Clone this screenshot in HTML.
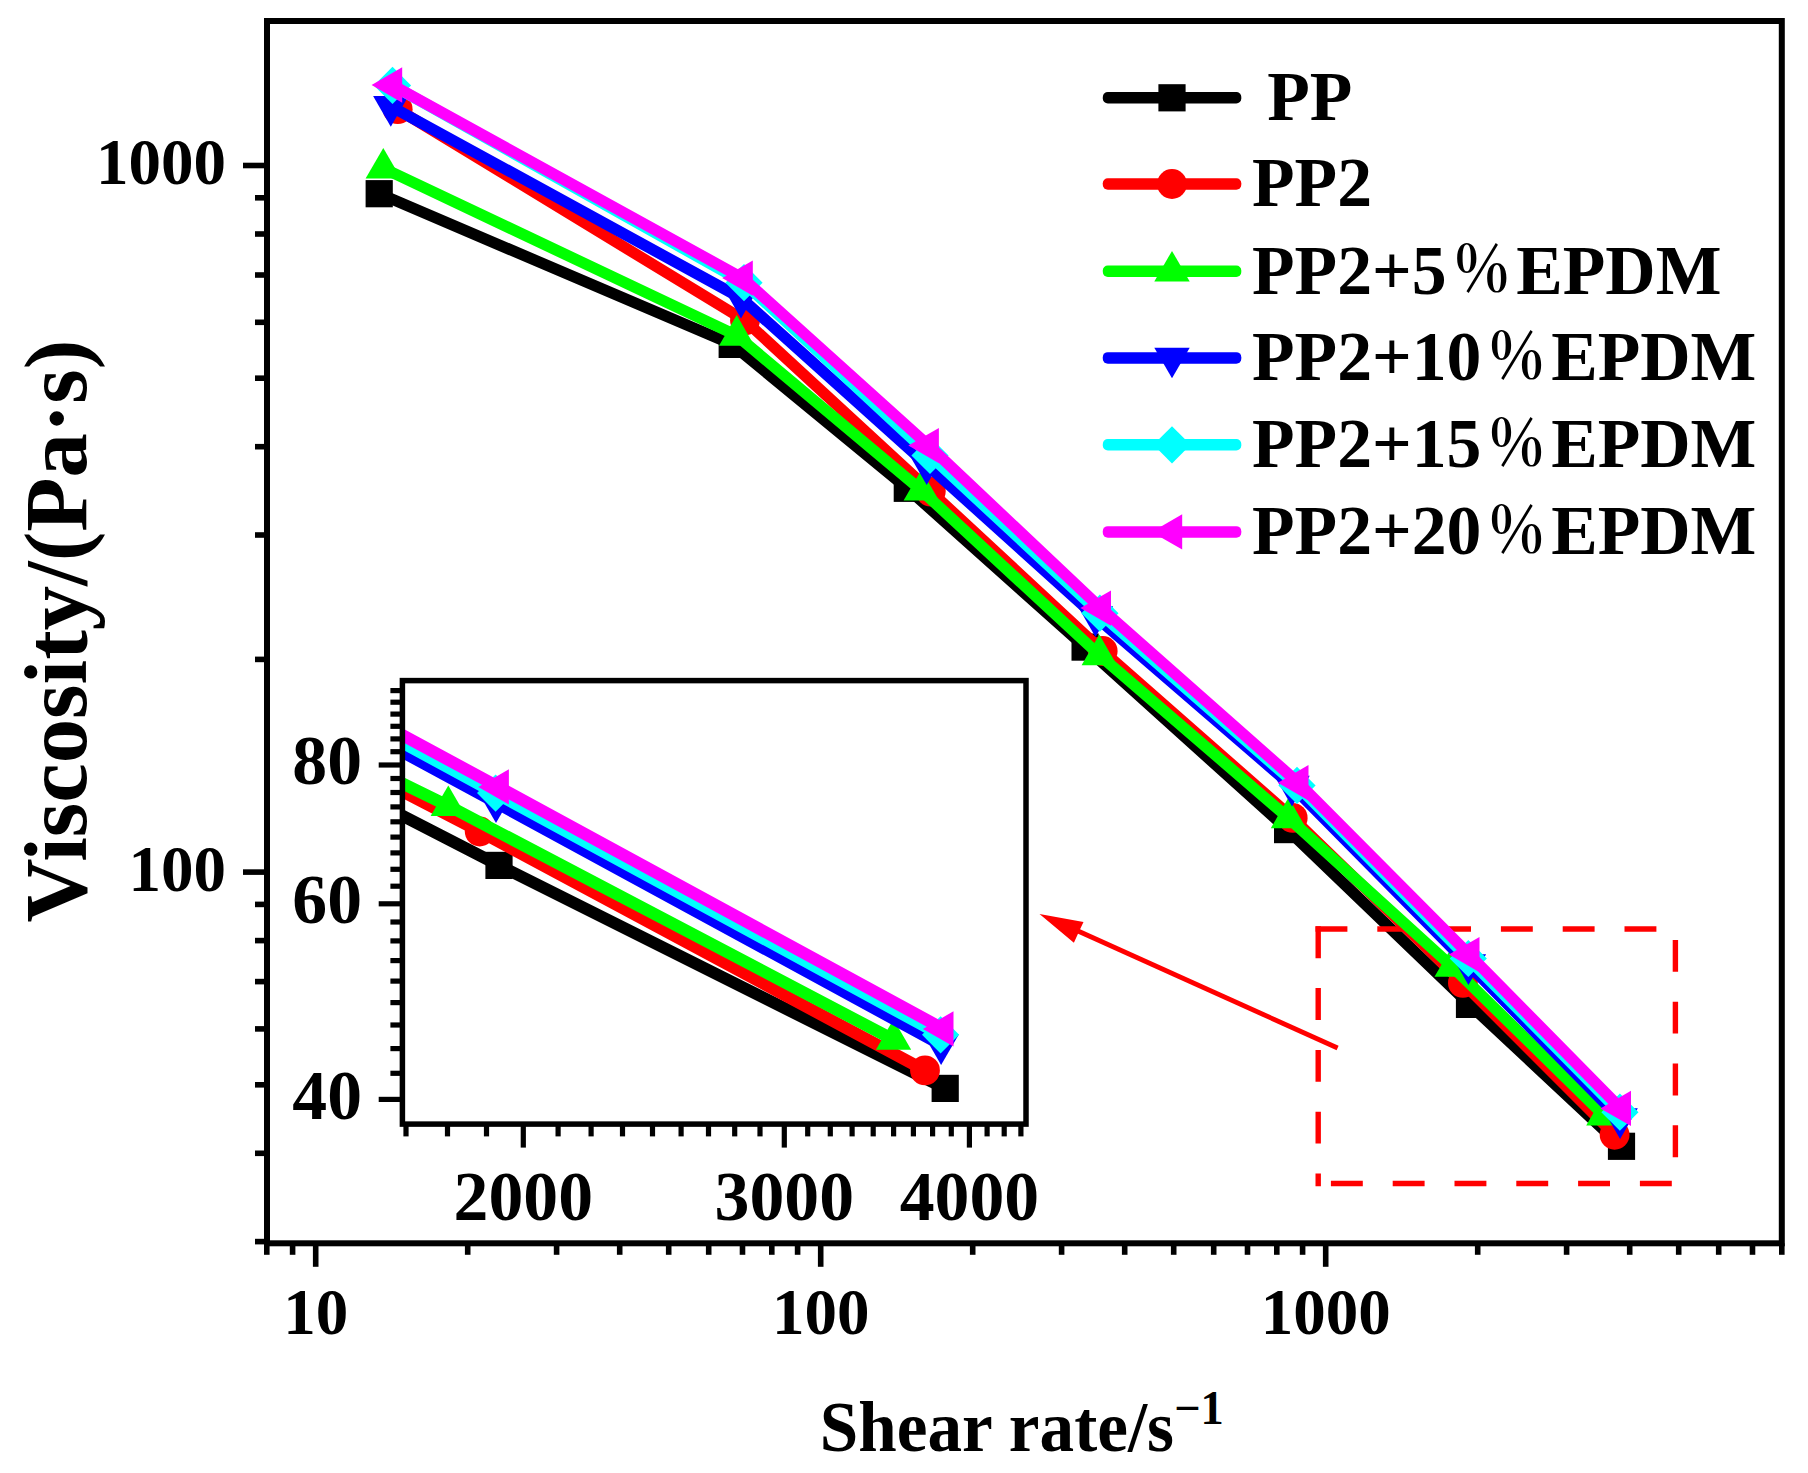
<!DOCTYPE html>
<html><head><meta charset="utf-8"><title>Viscosity vs shear rate</title>
<style>html,body{margin:0;padding:0;background:#fff}svg{display:block}text{font-family:"Liberation Serif","Noto Serif CJK SC",serif;font-weight:bold;fill:#000}</style></head><body>
<svg width="1808" height="1473" viewBox="0 0 1808 1473">
<rect width="1808" height="1473" fill="#fff"/>
<defs><clipPath id="ic"><rect x="402.4" y="680.6" width="623.6" height="443.4999999999999"/></clipPath></defs>
<polyline fill="none" stroke="#000000" stroke-width="11.2" stroke-linejoin="round" stroke-linecap="round" points="379.2,193.7 732.2,344.4 907.3,488.3 1085.1,647.1 1287.6,829.6 1469.5,1004.4 1621.5,1146.3"/><rect x="365.6" y="180.1" width="27.2" height="27.2" fill="#000000"/><rect x="718.6" y="330.8" width="27.2" height="27.2" fill="#000000"/><rect x="893.7" y="474.7" width="27.2" height="27.2" fill="#000000"/><rect x="1071.5" y="633.5" width="27.2" height="27.2" fill="#000000"/><rect x="1274.0" y="816.0" width="27.2" height="27.2" fill="#000000"/><rect x="1455.9" y="990.8" width="27.2" height="27.2" fill="#000000"/><rect x="1607.9" y="1132.7" width="27.2" height="27.2" fill="#000000"/>
<g fill="none" stroke="#ff0000" stroke-width="5.4" stroke-linecap="square" stroke-dasharray="26.5 35.3"><path d="M1318.2 929 H1675.4 V1183.5 H1318.2"/><path d="M1318.2 929 V1183.5"/></g>
<polyline fill="none" stroke="#ff0000" stroke-width="11.2" stroke-linejoin="round" stroke-linecap="round" points="397.7,109.2 745.0,320.5 930.8,491.6 1102.7,651.0 1292.7,817.9 1462.9,982.9 1614.6,1134.8"/><circle cx="397.7" cy="109.2" r="14.9" fill="#ff0000"/><circle cx="745.0" cy="320.5" r="14.9" fill="#ff0000"/><circle cx="930.8" cy="491.6" r="14.9" fill="#ff0000"/><circle cx="1102.7" cy="651.0" r="14.9" fill="#ff0000"/><circle cx="1292.7" cy="817.9" r="14.9" fill="#ff0000"/><circle cx="1462.9" cy="982.9" r="14.9" fill="#ff0000"/><circle cx="1614.6" cy="1134.8" r="14.9" fill="#ff0000"/>
<polyline fill="none" stroke="#00ff00" stroke-width="11.2" stroke-linejoin="round" stroke-linecap="round" points="383.3,168.3 736.7,335.5 921.3,490.3 1099.3,655.0 1288.5,818.0 1452.2,966.6 1603.9,1115.2"/><polygon points="383.3,147.9 365.6,178.5 401.0,178.5" fill="#00ff00"/><polygon points="736.7,315.1 719.0,345.7 754.4,345.7" fill="#00ff00"/><polygon points="921.3,469.9 903.6,500.5 939.0,500.5" fill="#00ff00"/><polygon points="1099.3,634.6 1081.6,665.2 1117.0,665.2" fill="#00ff00"/><polygon points="1288.5,797.6 1270.8,828.2 1306.2,828.2" fill="#00ff00"/><polygon points="1452.2,946.2 1434.5,976.8 1469.8,976.8" fill="#00ff00"/><polygon points="1603.9,1094.8 1586.2,1125.4 1621.5,1125.4" fill="#00ff00"/>
<polyline fill="none" stroke="#0000ff" stroke-width="11.2" stroke-linejoin="round" stroke-linecap="round" points="390.8,106.3 741.0,298.0 926.7,464.5 1095.5,616.5 1292.0,786.0 1468.4,964.5 1620.1,1118.5"/><polygon points="390.8,126.7 373.1,96.1 408.5,96.1" fill="#0000ff"/><polygon points="741.0,318.4 723.3,287.8 758.7,287.8" fill="#0000ff"/><polygon points="926.7,484.9 909.0,454.3 944.4,454.3" fill="#0000ff"/><polygon points="1095.5,636.9 1077.8,606.3 1113.2,606.3" fill="#0000ff"/><polygon points="1292.0,806.4 1274.3,775.8 1309.7,775.8" fill="#0000ff"/><polygon points="1468.4,984.9 1450.8,954.3 1486.1,954.3" fill="#0000ff"/><polygon points="1620.1,1138.9 1602.4,1108.3 1637.8,1108.3" fill="#0000ff"/>
<polyline fill="none" stroke="#00ffff" stroke-width="11.2" stroke-linejoin="round" stroke-linecap="round" points="392.5,85.4 744.0,282.7 930.0,455.5 1099.9,613.2 1297.0,785.4 1468.3,958.5 1619.9,1112.2"/><polygon points="392.5,66.8 411.1,85.4 392.5,104.0 373.9,85.4" fill="#00ffff"/><polygon points="744.0,264.1 762.6,282.7 744.0,301.3 725.4,282.7" fill="#00ffff"/><polygon points="930.0,436.9 948.6,455.5 930.0,474.1 911.4,455.5" fill="#00ffff"/><polygon points="1099.9,594.6 1118.5,613.2 1099.9,631.8 1081.3,613.2" fill="#00ffff"/><polygon points="1297.0,766.8 1315.6,785.4 1297.0,804.0 1278.4,785.4" fill="#00ffff"/><polygon points="1468.3,939.9 1486.9,958.5 1468.3,977.1 1449.7,958.5" fill="#00ffff"/><polygon points="1619.9,1093.6 1638.5,1112.2 1619.9,1130.8 1601.3,1112.2" fill="#00ffff"/>
<polyline fill="none" stroke="#ff00ff" stroke-width="11.2" stroke-linejoin="round" stroke-linecap="round" points="392.0,85.0 742.6,278.1 928.7,445.6 1100.8,608.1 1298.3,782.7 1469.3,954.6 1620.8,1108.5"/><polygon points="371.6,85.0 402.2,67.3 402.2,102.7" fill="#ff00ff"/><polygon points="722.2,278.1 752.8,260.4 752.8,295.8" fill="#ff00ff"/><polygon points="908.3,445.6 938.9,427.9 938.9,463.3" fill="#ff00ff"/><polygon points="1080.4,608.1 1111.0,590.4 1111.0,625.8" fill="#ff00ff"/><polygon points="1277.9,782.7 1308.5,765.0 1308.5,800.4" fill="#ff00ff"/><polygon points="1448.9,954.6 1479.5,936.9 1479.5,972.3" fill="#ff00ff"/><polygon points="1600.4,1108.5 1631.0,1090.8 1631.0,1126.1" fill="#ff00ff"/>
<g stroke="#000" stroke-width="6.0" fill="none"><rect x="267.0" y="21.0" width="1514.8" height="1222.3"/></g>
<g stroke="#000" stroke-width="5.6" fill="none"><line x1="266.8" y1="1243.3" x2="266.8" y2="1254.8"/><line x1="292.6" y1="1243.3" x2="292.6" y2="1254.8"/><line x1="315.7" y1="1243.3" x2="315.7" y2="1266.8"/><line x1="467.7" y1="1243.3" x2="467.7" y2="1254.8"/><line x1="556.6" y1="1243.3" x2="556.6" y2="1254.8"/><line x1="619.7" y1="1243.3" x2="619.7" y2="1254.8"/><line x1="668.7" y1="1243.3" x2="668.7" y2="1254.8"/><line x1="708.7" y1="1243.3" x2="708.7" y2="1254.8"/><line x1="742.5" y1="1243.3" x2="742.5" y2="1254.8"/><line x1="771.8" y1="1243.3" x2="771.8" y2="1254.8"/><line x1="797.6" y1="1243.3" x2="797.6" y2="1254.8"/><line x1="820.7" y1="1243.3" x2="820.7" y2="1266.8"/><line x1="972.7" y1="1243.3" x2="972.7" y2="1254.8"/><line x1="1061.6" y1="1243.3" x2="1061.6" y2="1254.8"/><line x1="1124.7" y1="1243.3" x2="1124.7" y2="1254.8"/><line x1="1173.7" y1="1243.3" x2="1173.7" y2="1254.8"/><line x1="1213.7" y1="1243.3" x2="1213.7" y2="1254.8"/><line x1="1247.5" y1="1243.3" x2="1247.5" y2="1254.8"/><line x1="1276.8" y1="1243.3" x2="1276.8" y2="1254.8"/><line x1="1302.6" y1="1243.3" x2="1302.6" y2="1254.8"/><line x1="1325.7" y1="1243.3" x2="1325.7" y2="1266.8"/><line x1="1477.7" y1="1243.3" x2="1477.7" y2="1254.8"/><line x1="1566.6" y1="1243.3" x2="1566.6" y2="1254.8"/><line x1="1629.7" y1="1243.3" x2="1629.7" y2="1254.8"/><line x1="1678.7" y1="1243.3" x2="1678.7" y2="1254.8"/><line x1="1718.7" y1="1243.3" x2="1718.7" y2="1254.8"/><line x1="1752.5" y1="1243.3" x2="1752.5" y2="1254.8"/><line x1="1781.8" y1="1243.3" x2="1781.8" y2="1254.8"/><line x1="267.0" y1="1241.6" x2="255.0" y2="1241.6"/><line x1="267.0" y1="1153.3" x2="255.0" y2="1153.3"/><line x1="267.0" y1="1084.8" x2="255.0" y2="1084.8"/><line x1="267.0" y1="1028.9" x2="255.0" y2="1028.9"/><line x1="267.0" y1="981.6" x2="255.0" y2="981.6"/><line x1="267.0" y1="940.6" x2="255.0" y2="940.6"/><line x1="267.0" y1="904.4" x2="255.0" y2="904.4"/><line x1="267.0" y1="872.1" x2="243.0" y2="872.1"/><line x1="267.0" y1="659.4" x2="255.0" y2="659.4"/><line x1="267.0" y1="535.0" x2="255.0" y2="535.0"/><line x1="267.0" y1="446.7" x2="255.0" y2="446.7"/><line x1="267.0" y1="378.2" x2="255.0" y2="378.2"/><line x1="267.0" y1="322.3" x2="255.0" y2="322.3"/><line x1="267.0" y1="275.0" x2="255.0" y2="275.0"/><line x1="267.0" y1="234.0" x2="255.0" y2="234.0"/><line x1="267.0" y1="197.8" x2="255.0" y2="197.8"/><line x1="267.0" y1="165.5" x2="243.0" y2="165.5"/></g>
<text x="315.7" y="1333.5" font-size="65" text-anchor="middle">10</text><text x="820.7" y="1333.5" font-size="65" text-anchor="middle">100</text><text x="1325.7" y="1333.5" font-size="65" text-anchor="middle">1000</text><text x="226" y="890.6" font-size="65" text-anchor="end">100</text><text x="226" y="184.0" font-size="65" text-anchor="end">1000</text>
<text transform="translate(819.8,1450.7) scale(1,1.025)" font-size="69.2">Shear rate/s<tspan font-size="46.5" dy="-26.5">−1</tspan></text>
<text transform="translate(86,922.6) rotate(-90)" font-size="88.7">Viscosity/(Pa·s)</text>
<rect x="1102.8" y="92.05" width="138.5" height="11.5" rx="5" fill="#000000"/><rect x="1158.4" y="84.2" width="27.2" height="27.2" fill="#000000"/><text x="1249.8" y="120.1" font-size="69.7" xml:space="preserve"> PP</text>
<rect x="1102.8" y="178.25" width="138.5" height="11.5" rx="5" fill="#ff0000"/><circle cx="1172.0" cy="184.0" r="14.9" fill="#ff0000"/><text x="1252" y="206.3" font-size="69.7" xml:space="preserve">PP2</text>
<rect x="1102.8" y="265.55" width="138.5" height="11.5" rx="5" fill="#00ff00"/><polygon points="1172.0,250.9 1154.3,281.5 1189.7,281.5" fill="#00ff00"/><text x="1252" y="293.6" font-size="69.7">PP2+5</text><text transform="translate(1481.8,268.0) scale(0.92,1.037)" y="22.5" text-anchor="middle" font-size="62" font-weight="900">％</text><text x="1516.3" y="293.6" font-size="69.7">EPDM</text>
<rect x="1102.8" y="352.15" width="138.5" height="11.5" rx="5" fill="#0000ff"/><polygon points="1172.0,378.3 1154.3,347.7 1189.7,347.7" fill="#0000ff"/><text x="1252" y="380.2" font-size="69.7">PP2+10</text><text transform="translate(1516.6,354.6) scale(0.92,1.037)" y="22.5" text-anchor="middle" font-size="62" font-weight="900">％</text><text x="1551.2" y="380.2" font-size="69.7">EPDM</text>
<rect x="1102.8" y="439.05" width="138.5" height="11.5" rx="5" fill="#00ffff"/><polygon points="1172.0,426.2 1190.6,444.8 1172.0,463.4 1153.4,444.8" fill="#00ffff"/><text x="1252" y="467.1" font-size="69.7">PP2+15</text><text transform="translate(1516.6,441.5) scale(0.92,1.037)" y="22.5" text-anchor="middle" font-size="62" font-weight="900">％</text><text x="1551.2" y="467.1" font-size="69.7">EPDM</text>
<rect x="1102.8" y="526.15" width="138.5" height="11.5" rx="5" fill="#ff00ff"/><polygon points="1151.6,531.9 1182.2,514.2 1182.2,549.6" fill="#ff00ff"/><text x="1252" y="554.2" font-size="69.7">PP2+20</text><text transform="translate(1516.6,528.6) scale(0.92,1.037)" y="22.5" text-anchor="middle" font-size="62" font-weight="900">％</text><text x="1551.2" y="554.2" font-size="69.7">EPDM</text>
<line x1="1337.6" y1="1048" x2="1078" y2="931" stroke="#ff0000" stroke-width="4.8"/><polygon points="1039.5,914.1 1083.5,921.9 1079,931.5 1073.9,942.7" fill="#ff0000"/>
<rect x="402.4" y="680.6" width="623.6" height="443.4999999999999" fill="#fff"/>
<g clip-path="url(#ic)">
<polyline fill="none" stroke="#000000" stroke-width="12.0" stroke-linejoin="round" stroke-linecap="round" points="-34.6,590.5 499.0,865.4 945.2,1088.4"/><rect x="-48.2" y="576.9" width="27.2" height="27.2" fill="#000000"/><rect x="485.4" y="851.8" width="27.2" height="27.2" fill="#000000"/><rect x="931.6" y="1074.8" width="27.2" height="27.2" fill="#000000"/>
<polyline fill="none" stroke="#ff0000" stroke-width="12.0" stroke-linejoin="round" stroke-linecap="round" points="-19.7,572.1 479.7,831.5 925.0,1070.4"/><circle cx="-19.7" cy="572.1" r="14.9" fill="#ff0000"/><circle cx="479.7" cy="831.5" r="14.9" fill="#ff0000"/><circle cx="925.0" cy="1070.4" r="14.9" fill="#ff0000"/>
<polyline fill="none" stroke="#00ff00" stroke-width="12.0" stroke-linejoin="round" stroke-linecap="round" points="-32.0,572.2 448.3,805.8 893.5,1039.6"/><polygon points="-32.0,551.8 -49.7,582.4 -14.3,582.4" fill="#00ff00"/><polygon points="448.3,785.4 430.6,816.0 466.0,816.0" fill="#00ff00"/><polygon points="893.5,1019.2 875.9,1049.8 911.2,1049.8" fill="#00ff00"/>
<polyline fill="none" stroke="#0000ff" stroke-width="12.0" stroke-linejoin="round" stroke-linecap="round" points="-21.7,521.9 496.0,802.6 941.1,1044.7"/><polygon points="-21.7,542.3 -39.4,511.7 -4.1,511.7" fill="#0000ff"/><polygon points="496.0,823.0 478.4,792.4 513.7,792.4" fill="#0000ff"/><polygon points="941.1,1065.1 923.5,1034.5 958.8,1034.5" fill="#0000ff"/>
<polyline fill="none" stroke="#00ffff" stroke-width="12.0" stroke-linejoin="round" stroke-linecap="round" points="-7.1,521.0 495.6,793.1 940.6,1034.8"/><polygon points="-7.1,502.4 11.5,521.0 -7.1,539.6 -25.7,521.0" fill="#00ffff"/><polygon points="495.6,774.5 514.2,793.1 495.6,811.7 477.0,793.1" fill="#00ffff"/><polygon points="940.6,1016.2 959.2,1034.8 940.6,1053.4 922.0,1034.8" fill="#00ffff"/>
<polyline fill="none" stroke="#ff00ff" stroke-width="12.0" stroke-linejoin="round" stroke-linecap="round" points="-3.2,516.7 498.7,787.0 943.3,1028.9"/><polygon points="-23.6,516.7 7.0,499.1 7.0,534.4" fill="#ff00ff"/><polygon points="478.3,787.0 508.9,769.3 508.9,804.6" fill="#ff00ff"/><polygon points="922.9,1028.9 953.5,1011.3 953.5,1046.6" fill="#ff00ff"/>
</g>
<g stroke="#000" stroke-width="5.5" fill="none"><rect x="402.4" y="680.6" width="623.6" height="443.4999999999999"/></g>
<g stroke="#000" stroke-width="5.2" fill="none"><line x1="406.0" y1="1124.1" x2="406.0" y2="1136.4"/><line x1="447.5" y1="1124.1" x2="447.5" y2="1136.4"/><line x1="486.5" y1="1124.1" x2="486.5" y2="1136.4"/><line x1="523.3" y1="1124.1" x2="523.3" y2="1147.6"/><line x1="558.1" y1="1124.1" x2="558.1" y2="1136.4"/><line x1="591.1" y1="1124.1" x2="591.1" y2="1136.4"/><line x1="622.5" y1="1124.1" x2="622.5" y2="1136.4"/><line x1="652.5" y1="1124.1" x2="652.5" y2="1136.4"/><line x1="681.1" y1="1124.1" x2="681.1" y2="1136.4"/><line x1="708.5" y1="1124.1" x2="708.5" y2="1136.4"/><line x1="734.7" y1="1124.1" x2="734.7" y2="1136.4"/><line x1="760.0" y1="1124.1" x2="760.0" y2="1136.4"/><line x1="784.3" y1="1124.1" x2="784.3" y2="1147.6"/><line x1="807.7" y1="1124.1" x2="807.7" y2="1136.4"/><line x1="830.3" y1="1124.1" x2="830.3" y2="1136.4"/><line x1="852.1" y1="1124.1" x2="852.1" y2="1136.4"/><line x1="873.2" y1="1124.1" x2="873.2" y2="1136.4"/><line x1="893.6" y1="1124.1" x2="893.6" y2="1136.4"/><line x1="913.4" y1="1124.1" x2="913.4" y2="1136.4"/><line x1="932.6" y1="1124.1" x2="932.6" y2="1136.4"/><line x1="951.3" y1="1124.1" x2="951.3" y2="1136.4"/><line x1="969.4" y1="1124.1" x2="969.4" y2="1147.6"/><line x1="987.1" y1="1124.1" x2="987.1" y2="1136.4"/><line x1="1004.2" y1="1124.1" x2="1004.2" y2="1136.4"/><line x1="1020.9" y1="1124.1" x2="1020.9" y2="1136.4"/><line x1="402.4" y1="1099.4" x2="378.7" y2="1099.4"/><line x1="402.4" y1="1073.3" x2="390.4" y2="1073.3"/><line x1="402.4" y1="1048.6" x2="390.4" y2="1048.6"/><line x1="402.4" y1="1025.0" x2="390.4" y2="1025.0"/><line x1="402.4" y1="1002.6" x2="390.4" y2="1002.6"/><line x1="402.4" y1="981.1" x2="390.4" y2="981.1"/><line x1="402.4" y1="960.6" x2="390.4" y2="960.6"/><line x1="402.4" y1="940.9" x2="390.4" y2="940.9"/><line x1="402.4" y1="922.0" x2="390.4" y2="922.0"/><line x1="402.4" y1="903.8" x2="378.7" y2="903.8"/><line x1="402.4" y1="886.2" x2="390.4" y2="886.2"/><line x1="402.4" y1="869.3" x2="390.4" y2="869.3"/><line x1="402.4" y1="852.9" x2="390.4" y2="852.9"/><line x1="402.4" y1="837.1" x2="390.4" y2="837.1"/><line x1="402.4" y1="821.8" x2="390.4" y2="821.8"/><line x1="402.4" y1="806.9" x2="390.4" y2="806.9"/><line x1="402.4" y1="792.5" x2="390.4" y2="792.5"/><line x1="402.4" y1="778.5" x2="390.4" y2="778.5"/><line x1="402.4" y1="765.0" x2="378.7" y2="765.0"/><line x1="402.4" y1="751.7" x2="390.4" y2="751.7"/><line x1="402.4" y1="738.9" x2="390.4" y2="738.9"/><line x1="402.4" y1="726.3" x2="390.4" y2="726.3"/><line x1="402.4" y1="714.1" x2="390.4" y2="714.1"/><line x1="402.4" y1="702.2" x2="390.4" y2="702.2"/><line x1="402.4" y1="690.6" x2="390.4" y2="690.6"/></g>
<text x="523.3" y="1220" font-size="69.7" text-anchor="middle">2000</text><text x="784.3" y="1220" font-size="69.7" text-anchor="middle">3000</text><text x="969.4" y="1220" font-size="69.7" text-anchor="middle">4000</text><text x="362" y="1118.7" font-size="69.7" text-anchor="end">40</text><text x="362" y="923.1" font-size="69.7" text-anchor="end">60</text><text x="362" y="784.3" font-size="69.7" text-anchor="end">80</text>
</svg>
</body></html>
